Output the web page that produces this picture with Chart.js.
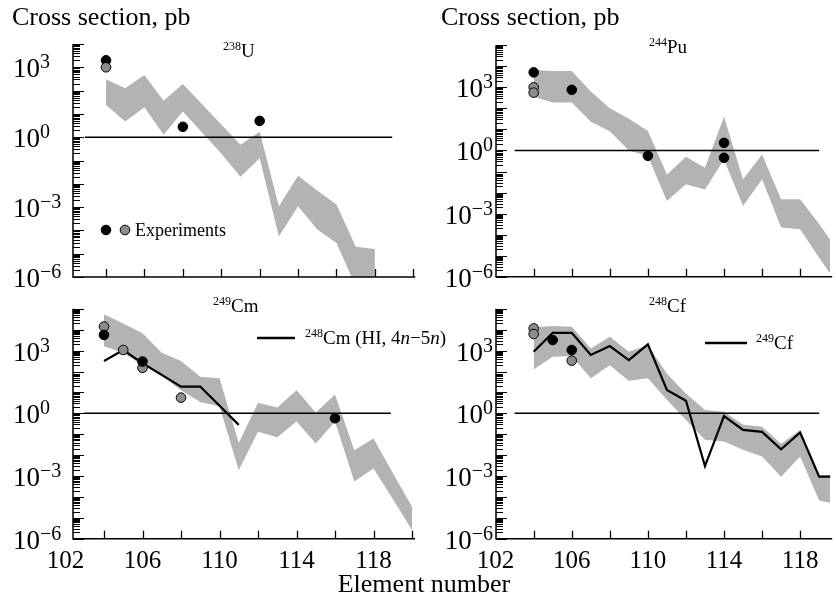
<!DOCTYPE html>
<html>
<head>
<meta charset="utf-8">
<script src="https://cdn.jsdelivr.net/npm/chart.js@4.4.1/dist/chart.umd.min.js"></script>
<style>
  html, body { margin: 0; padding: 0; background: #fff; }
  #wrap { position: relative; width: 836px; height: 601px; overflow: hidden; }
  #wrap canvas { position: absolute; left: 0; top: 0; }
</style>
</head>
<body>
<div id="wrap">
  <canvas id="cU" width="836" height="601"></canvas>
  <canvas id="cPu" width="836" height="601"></canvas>
  <canvas id="cCm" width="836" height="601"></canvas>
  <canvas id="cCf" width="836" height="601"></canvas>
</div>
<script>
// element numbers
const zShort = [104, 105, 106, 107, 108, 109, 110, 111, 112, 113, 114, 115, 116, 117, 118];
const zLong = [104, 105, 106, 107, 108, 109, 110, 111, 112, 113, 114, 115, 116, 117, 118, 119, 120];

// axis ticks / labels
const xTickMarks = [104, 106, 108, 110, 112, 114, 116, 118, 120];
const xTickLabels = [102, 106, 110, 114, 118];
const yTickExps = [-6, -3, 0, 3];

// 238U band (pb)
const u238Hi = [310, 126, 470, 37, 190, 26, 3.5, 0.47, 1.7, 1.1e-3, 2.2e-2, 5.2e-3, 1.3e-3, 2.0e-5, 1.6e-5];
const u238Lo = [24, 4.7, 19.5, 1.26, 12.6, 1.6, 0.2, 0.02, 0.126, 5.5e-5, 1.1e-3, 1.1e-4, 2.9e-5, 4e-7, 1e-7];
const u238BlackX = [104, 108, 112];
const u238BlackY = [2000, 2.8, 5.0];
const u238GrayX = [104];
const u238GrayY = [1000];

// 244Pu band
const pu244Hi = [6.6e3, 6.0e3, 6.0e3, 630, 100, 32, 8.3, 7.2e-2, 0.5, 0.15, 40, 4.3e-2, 0.65, 4.8e-3, 4.8e-3, 3.2e-4, 1.6e-5];
const pu244Lo = [360, 190, 190, 23, 8.1, 1.0, 0.54, 4e-3, 2.5e-2, 1.4e-2, 0.37, 2.3e-3, 4.3e-2, 2.2e-4, 1.8e-4, 8e-6, 4e-7];
const pu244BlackX = [104, 106, 110, 114, 114];
const pu244BlackY = [5.1e3, 760, 0.56, 2.3, 0.45];
const pu244GrayX = [104, 104];
const pu244GrayY = [1.0e3, 560];

// 249Cm band + 248Cm (HI, 4n-5n) line
const cm249Hi = [5.5e4, 2.0e4, 6.8e3, 790, 320, 56, 47, 3.8e-2, 3.2, 1.9, 12.6, 1.1, 7.9, 1.7e-2, 6.3e-2, 1.4e-3, 3.4e-5];
const cm249Lo = [1.6e3, 790, 200, 63, 12.6, 3.5, 2.2, 1.9e-3, 0.13, 7.1e-2, 0.4, 3.6e-2, 0.4, 5.4e-4, 2.3e-3, 7.9e-5, 2.6e-6];
const cm248LineX = [104, 105, 106, 108, 109, 111];
const cm248LineY = [320, 1070, 250, 19, 19, 0.28];
const cm249BlackX = [104, 106, 116];
const cm249BlackY = [5.6e3, 300, 0.58];
const cm249GrayX = [104, 105, 106, 108];
const cm249GrayY = [1.4e4, 1070, 150, 5.6];

// 248Cf band + 249Cf line
const cf248Hi = [1.26e4, 1.5e4, 1.4e4, 1.26e3, 4.6e3, 890, 1.8e3, 79, 8.9, 1.45, 1.2, 0.28, 0.23, 3.5e-2, 0.16, 1.1e-3, 1.1e-3];
const cf248Lo = [126, 510, 550, 47, 200, 36, 47, 4.4, 0.48, 5.4e-2, 4.5e-2, 1.8e-2, 8.5e-3, 9.3e-4, 8.5e-3, 6.8e-5, 4.3e-5];
const cf249Line = [890, 7100, 7100, 620, 1660, 350, 2000, 13, 4.0, 3.0e-3, 0.74, 0.16, 0.13, 1.9e-2, 0.12, 9.3e-4, 9.3e-4];
const cf248BlackX = [105, 106];
const cf248BlackY = [3.2e3, 1.07e3];
const cf248GrayX = [104, 104, 106];
const cf248GrayY = [1.15e4, 6.2e3, 330];

const bandColor = "#b3b3b3";
const grayDot = "#8c8c8c";
const serif = '"Liberation Serif", "DejaVu Serif", serif';

const pts = (xs, ys) => xs.map((x, i) => ({ x, y: ys[i] }));

const bandSets = (xs, hi, lo) => [
  { data: pts(xs, hi), borderColor: "rgba(0,0,0,0)", borderWidth: 0, pointRadius: 0, fill: false, order: 4 },
  { data: pts(xs, lo), borderColor: "rgba(0,0,0,0)", borderWidth: 0, pointRadius: 0, fill: "-1", backgroundColor: bandColor, order: 4 },
];

const unityLine = (x0, x1) => ({
  data: [{ x: x0, y: 1 }, { x: x1, y: 1 }],
  borderColor: "#000", borderWidth: 1.4, pointRadius: 0, fill: false, order: 3,
});

const theoryLine = (xs, ys) => ({
  data: pts(xs, ys), borderColor: "#000", borderWidth: 2.2, pointRadius: 0, fill: false, order: 2,
});

const dots = (xs, ys, color, order) => ({
  data: pts(xs, ys), showLine: false, pointRadius: 4.8, pointBackgroundColor: color,
  pointBorderColor: "#000", pointBorderWidth: 1, order,
});

const drawRuns = (ctx, x, y, runs, align) => {
  let w = 0;
  const fonts = runs.map(r => (r[3] ? "italic " : "") + r[1] + "px " + serif);
  runs.forEach((r, i) => { ctx.font = fonts[i]; r.w = ctx.measureText(r[0]).width; w += r.w; });
  let cx = align === "right" ? x - w : align === "center" ? x - w / 2 : x;
  runs.forEach((r, i) => {
    ctx.font = fonts[i];
    ctx.fillText(r[0], cx, y + (r[2] || 0));
    cx += r.w;
  });
};

const decoPlugin = cfg => ({
  id: "deco",
  afterDraw(chart) {
    const { ctx, chartArea: a, scales: { x, y } } = chart;
    ctx.save();
    ctx.strokeStyle = "#000";
    ctx.fillStyle = "#000";

    // axes
    ctx.lineWidth = 1.5;
    ctx.beginPath();
    ctx.moveTo(a.left, a.top);
    ctx.lineTo(a.left, a.bottom);
    ctx.lineTo(a.right + 2, a.bottom);
    ctx.stroke();

    // log ticks, inside
    ctx.lineWidth = 1;
    ctx.beginPath();
    const topExp = Math.round(Math.log10(y.max));
    for (let e = -6; e <= topExp; e++) {
      for (let k = 1; k < 10; k++) {
        const v = k * Math.pow(10, e);
        if (v > y.max * 1.0001) break;
        const py = Math.round(y.getPixelForValue(v)) + 0.5;
        ctx.moveTo(a.left, py);
        ctx.lineTo(a.left + (k === 1 ? 11 : 7), py);
      }
    }
    ctx.stroke();
    ctx.lineWidth = 1.3;
    ctx.beginPath();
    xTickMarks.forEach(t => {
      if (t > x.max + 0.01) return;
      const px = Math.round(x.getPixelForValue(t)) + 0.5;
      ctx.moveTo(px, a.bottom);
      ctx.lineTo(px, a.bottom - 8);
    });
    ctx.stroke();

    // y tick labels
    ctx.textBaseline = "alphabetic";
    yTickExps.forEach(e => {
      const py = y.getPixelForValue(Math.pow(10, e));
      const ex = e < 0 ? "\u2212" + Math.abs(e) : String(e);
      const runs = [["10", 27, 10], [ex, 20, 1]];
      drawRuns(ctx, cfg.side === "left" ? 13 : 493, py, runs, cfg.side === "left" ? "left" : "right");
    });

    // x tick labels
    if (cfg.xLabels) {
      xTickLabels.forEach(t => {
        drawRuns(ctx, x.getPixelForValue(t), 568, [[String(t), 25, 0]], "center");
      });
    }

    // titles
    if (cfg.yTitle) drawRuns(ctx, cfg.yTitle[0], 25, [["Cross section, pb", 26, 0]], "left");
    drawRuns(ctx, cfg.title[0], cfg.title[1], [[cfg.title[2], 12, -7], [cfg.title[3], 19, 0]], "left");
    if (cfg.extra) cfg.extra(ctx, chart);
    ctx.restore();
  },
});

const makePanel = (id, pad, xr, ymax, datasets, cfg) => {
  new Chart(document.getElementById(id), {
    type: "line",
    data: { datasets },
    options: {
      responsive: false,
      animation: false,
      devicePixelRatio: 1,
      events: [],
      layout: { padding: pad },
      plugins: { legend: { display: false }, tooltip: { enabled: false } },
      elements: { line: { tension: 0 } },
      scales: {
        x: { type: "linear", min: xr[0], max: xr[1], display: false },
        y: { type: "logarithmic", min: 1e-6, max: ymax, display: false },
      },
    },
    plugins: [decoPlugin(cfg)],
  });
};

// 238U
makePanel("cU", { left: 73, top: 44, right: 422.7, bottom: 324 }, [102.28, 120], 1e4, [
  ...bandSets(zShort, u238Hi, u238Lo),
  unityLine(102.9, 118.9),
  dots(u238BlackX, u238BlackY, "#000", 1),
  dots(u238GrayX, u238GrayY, grayDot, 0),
], {
  side: "left", yTitle: [12], title: [223, 57, "238", "U"],
  extra: ctx => {
    ctx.lineWidth = 1;
    [[106, "#000"], [125, grayDot]].forEach(([cx, c]) => {
      ctx.beginPath();
      ctx.arc(cx, 230, 4.8, 0, Math.PI * 2);
      ctx.fillStyle = c;
      ctx.fill();
      ctx.stroke();
    });
    ctx.fillStyle = "#000";
    drawRuns(ctx, 135, 236, [["Experiments", 18, 0]], "left");
  },
});

// 244Pu
makePanel("cPu", { left: 496, top: 45.2, right: 0, bottom: 324.2 }, [102.02, 119.58], 1e5, [
  ...bandSets(zLong, pu244Hi, pu244Lo),
  unityLine(103, 119),
  dots(pu244GrayX, pu244GrayY, grayDot, 1),
  dots(pu244BlackX, pu244BlackY, "#000", 0),
], { side: "right", yTitle: [441], title: [649, 53, "244", "Pu"] });

// 249Cm
makePanel("cCm", { left: 73, top: 308.8, right: 423, bottom: 62.3 }, [102.39, 120.05], 1e5, [
  ...bandSets(zLong, cm249Hi, cm249Lo),
  unityLine(102.95, 118.9),
  theoryLine(cm248LineX, cm248LineY),
  dots(cm249GrayX, cm249GrayY, grayDot, 1),
  dots(cm249BlackX, cm249BlackY, "#000", 0),
], {
  side: "left", xLabels: true, title: [213, 312, "249", "Cm"],
  extra: ctx => {
    ctx.lineWidth = 2.4;
    ctx.beginPath();
    ctx.moveTo(257, 338);
    ctx.lineTo(295, 338);
    ctx.stroke();
    drawRuns(ctx, 305, 344, [["248", 12, -7], ["Cm (HI, 4", 19, 0], ["n", 19, 0, true], ["\u22125", 19, 0], ["n", 19, 0, true], [")", 19, 0]], "left");
    drawRuns(ctx, 424, 592, [["Element number", 26, 0]], "center");
  },
});

// 248Cf
makePanel("cCf", { left: 496, top: 308.8, right: 0, bottom: 62.3 }, [102.02, 119.58], 1e5, [
  ...bandSets(zLong, cf248Hi, cf248Lo),
  unityLine(103, 119),
  theoryLine(zLong, cf249Line),
  dots(cf248GrayX, cf248GrayY, grayDot, 1),
  dots(cf248BlackX, cf248BlackY, "#000", 0),
], {
  side: "right", xLabels: true, title: [649, 312, "248", "Cf"],
  extra: ctx => {
    ctx.lineWidth = 2.4;
    ctx.beginPath();
    ctx.moveTo(705, 343);
    ctx.lineTo(747, 343);
    ctx.stroke();
    drawRuns(ctx, 756, 349, [["249", 12, -7], ["Cf", 19, 0]], "left");
  },
});
</script>
</body>
</html>
